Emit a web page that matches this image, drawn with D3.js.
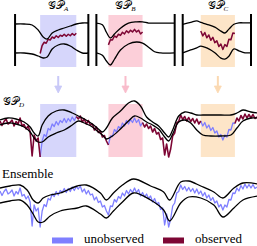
<!DOCTYPE html>
<html>
<head>
<meta charset="utf-8">
<script src="https://cdn.jsdelivr.net/npm/d3@7"></script>
<style>
  html, body { margin: 0; padding: 0; background: #fff; }
  svg { display: block; }
  text { font-family: "Liberation Serif", "DejaVu Serif", serif; fill: #000; }
</style>
</head>
<body>
<div id="chart"></div>
<script>
// the series, one value every 2 time steps (t = 0 .. 256)
const signal = [
  0.9, 0.45, 0.85, 1.1, 0.6, 0.75, 1.0, 0.4, 0.85, 0.6,
  1.2, 0.4, 0.55, 0.1, 0.4, -0.2, -2.6, -0.5, -1.1, -0.8,
  -2.7, -1.1, -0.45, -0.65, 0.15, 0.0, 0.6, 0.35, 0.85, 0.5,
  0.95, 0.75, 1.15, 0.75, 1.15, 0.85, 1.3, 0.95, 1.35, 1.1,
  1.4, 0.8, 1.1, 0.6, 0.95, 0.5, 0.6, 0.0, 0.3, -0.25,
  -0.1, -0.7, -0.55, -1.1, -1.5, -0.6, -0.65, 0.05, -0.2, 0.35,
  0.15, 0.7, 0.4, 0.95, 0.6, 1.05, 0.75, 1.2, 0.75, 1.05,
  0.4, 0.75, 0.3, 0.6, 0.15, 0.4, -0.2, 0.15, -0.4, -0.25,
  -0.95, -0.8, -2.5, -1.4, -2.7, -1.9, -0.6, -0.3, 0.7, 0.85,
  1.5, 1.05, 1.35, 0.9, 1.25, 0.85, 1.15, 0.7, 1.1, 0.6,
  0.9, 0.4, 0.75, 0.2, 0.5, -0.05, 0.25, -0.3, -0.1, -0.7,
  -0.45, -1.0, -0.5, -0.7, 0.05, 0.0, 0.7, 0.65, 1.2, 0.9,
  1.45, 1.1, 1.6, 1.2, 1.55, 1.2, 1.55, 1.15, 1.3
];
const signalStep = 2;

// held-out regions and the window of each local GP
const regionNames = ["A", "B", "C"];
const regions = [[40, 76], [108, 142], [200, 234]];
const windows = [[15, 88], [96, 174], [182, 250]];
const regionFill = ["#d6d6fb", "#fccfd9", "#fde5c8"];
const arrowColor = ["#c9c9f8", "#f9bccb", "#fbd9b2"];

// GP_D band
const knotsD = [0, 8, 16, 24, 30, 34, 38, 42, 48, 56, 64, 72, 78, 84, 92, 98, 102, 106, 112, 120,
  128, 134, 140, 146, 152, 158, 164, 168, 172, 178, 184, 190, 196, 202, 210, 220, 230, 236, 242, 250, 257];
const upperD = [1.0, 1.2, 1.1, 0.8, 0.3, -0.3, -0.6, 0.5, 1.4, 1.9, 2.0, 1.7, 1.4, 1.1, 0.6, 0.1, -0.2, 0.2, 1.2, 1.9,
  2.7, 2.9, 2.4, 1.3, 0.8, 0.4, -0.3, -0.7, 0.0, 1.4, 1.8, 1.7, 1.5, 1.5, 1.5, 1.5, 1.5, 1.7, 2.0, 1.8, 1.7];
const lowerD = [0.5, 0.7, 0.6, 0.3, -0.2, -0.8, -1.2, -1.2, -0.7, -0.3, 0.0, 0.5, 0.9, 0.7, 0.3, -0.2, -0.5, -0.9, -0.6, 0.1,
  0.9, 1.4, 1.2, 0.8, 0.5, 0.1, -0.7, -1.1, -0.4, 0.8, 1.0, 0.7, 0.0, -0.5, -0.6, -0.6, -0.5, 0.2, 0.9, 1.2, 1.2];

// ensemble band
const knotsE = [0, 10, 20, 27, 33, 38, 43, 50, 60, 77, 86, 100, 106, 113, 122, 133, 150, 163, 169, 180,
  188, 200, 213, 222, 233, 242, 257];
const upperE = [1.2, 1.4, 1.5, 1.0, 0.0, -0.3, 0.2, 0.5, 0.7, 1.4, 1.5, 0.7, 0.0, 0.7, 1.5, 2.1, 1.4, 0.8, 0.0, 1.8,
  1.9, 1.4, 0.8, 0.2, 1.2, 1.7, 1.6];
const lowerE = [-0.3, -0.1, 0.0, -0.5, -1.4, -2.2, -2.2, -1.6, -1.1, -0.8, -0.6, -1.4, -1.8, -1.1, -0.2, 0.7, 0.0, -1.0, -2.1, -0.3,
  0.3, 0.2, -0.5, -1.7, -0.8, 0.0, 0.4];

// local GP bands
const knotsA = [15, 24, 32, 38, 43, 47, 52, 58, 64, 70, 76, 82, 88];
const upperA = [3.2, 3.2, 3.0, 2.0, 0.6, 0.2, 1.4, 2.0, 2.4, 2.8, 3.2, 3.4, 3.4];
const lowerA = [-2.6, -2.6, -2.8, -3.2, -3.6, -3.4, -1.8, -1.0, -0.8, -1.2, -2.0, -2.6, -2.6];
const knotsB = [96, 102, 106, 110, 114, 120, 128, 136, 142, 148, 154, 160, 174];
const upperB = [2.3, 2.0, 0.7, -0.3, 0.4, 1.4, 2.3, 2.5, 2.5, 2.3, 2.3, 2.3, 2.3];
const lowerB = [-2.9, -3.3, -4.3, -5.0, -4.0, -2.4, -1.35, -1.0, -1.2, -1.9, -2.7, -2.9, -2.9];
const knotsC = [182, 190, 196, 200, 206, 214, 220, 224, 228, 233, 238, 244, 250];
const upperC = [1.6, 1.8, 1.95, 1.8, 1.6, 1.3, 0.9, 0.7, 1.1, 1.6, 1.75, 1.75, 1.75];
const lowerC = [-1.35, -1.05, -0.85, -0.65, -0.85, -1.35, -1.9, -2.0, -1.7, -0.95, -1.15, -1.35, -1.35];

const legendLabels = ["unobserved", "observed"];
const blue = "#7f7fff", red = "#7d0634";

const W = 257, H = 246;
const svg = d3.select("#chart").append("svg")
    .attr("width", W)
    .attr("height", H);

const x = d3.scaleLinear().domain([0, 256]).range([0, 257]);
const yD = d3.scaleLinear().domain([-3, 3]).range([160, 100]);
const yE = d3.scaleLinear().domain([-3, 3]).range([230, 170]);
const yTop = [
  d3.scaleLinear().domain([-1, 1]).range([45, 35]),
  d3.scaleLinear().domain([-1, 1]).range([42, 30.5]),
  d3.scaleLinear().domain([-0.75, 0.7]).range([47, 33])
];

const pts = signal.map((v, i) => ({t: i * signalStep, v: v}));
const inRegion = t => regions.some(r => t >= r[0] && t <= r[1]);
const insideRegion = t => regions.some(r => t > r[0] && t < r[1]);

function band(knots, vals, y) {
  return d3.line()
      .x((d, i) => x(knots[i]))
      .y(d => y(d))
      .curve(d3.curveCatmullRom.alpha(0.5))(vals);
}

function drawBand(g, knots, up, lo, y) {
  [up, lo].forEach(vals => {
    g.append("path")
        .attr("d", band(knots, vals, y))
        .attr("fill", "none")
        .attr("stroke", "#000")
        .attr("stroke-width", 1.3);
  });
}

// ---- top row: local GPs
const topBands = [[knotsA, upperA, lowerA], [knotsB, upperB, lowerB], [knotsC, upperC, lowerC]];
regions.forEach((r, k) => {
  const g = svg.append("g");
  g.append("rect")
      .attr("x", x(r[0])).attr("y", 15)
      .attr("width", x(r[1]) - x(r[0])).attr("height", 52)
      .attr("fill", regionFill[k]);

  const obs = pts.filter(d => d.t >= r[0] && d.t <= r[1]);
  g.append("path")
      .attr("d", d3.line().x(d => x(d.t)).y(d => yTop[k](d.v))(obs))
      .attr("fill", "none")
      .attr("stroke", red)
      .attr("stroke-width", 1.5)
      .attr("stroke-linejoin", "round");

  drawBand(g, topBands[k][0], topBands[k][1], topBands[k][2], yTop[k]);

  windows[k].forEach(w => {
    g.append("line")
        .attr("x1", x(w)).attr("x2", x(w))
        .attr("y1", 14).attr("y2", 66)
        .attr("stroke", "#000")
        .attr("stroke-width", 2);
  });

  const title = g.append("text")
      .attr("x", x((r[0] + r[1]) / 2))
      .attr("y", 9)
      .attr("text-anchor", "middle")
      .style("font-size", "11px");
  title.append("tspan").text("𝒢𝒫");
  title.append("tspan").text(regionNames[k])
      .attr("dy", 2)
      .style("font-size", "7px")
      .style("font-style", "italic");

  // arrow down to GP_D
  const cx = x((r[0] + r[1]) / 2);
  g.append("line")
      .attr("x1", cx).attr("x2", cx)
      .attr("y1", 76).attr("y2", 88)
      .attr("stroke", arrowColor[k])
      .attr("stroke-width", 2);
  g.append("path")
      .attr("d", `M${cx - 3.5},86 L${cx},93 L${cx + 3.5},86 Z`)
      .attr("fill", arrowColor[k])
      .attr("stroke", arrowColor[k])
      .attr("stroke-width", 0.8)
      .attr("stroke-linejoin", "round");
});

// ---- middle: GP_D
const gD = svg.append("g");
regions.forEach((r, k) => {
  gD.append("rect")
      .attr("x", x(r[0])).attr("y", 104)
      .attr("width", x(r[1]) - x(r[0])).attr("height", 53)
      .attr("fill", regionFill[k]);
});
gD.append("path")
    .attr("d", d3.line().defined(d => inRegion(d.t)).x(d => x(d.t)).y(d => yD(d.v))(pts))
    .attr("fill", "none")
    .attr("stroke", blue)
    .attr("stroke-width", 1.3)
    .attr("stroke-linejoin", "round");
gD.append("path")
    .attr("d", d3.line().defined(d => !insideRegion(d.t)).x(d => x(d.t)).y(d => yD(d.v))(pts))
    .attr("fill", "none")
    .attr("stroke", red)
    .attr("stroke-width", 1.6)
    .attr("stroke-linejoin", "round");
drawBand(gD, knotsD, upperD, lowerD, yD);

const tD = gD.append("text").attr("x", 3).attr("y", 105).style("font-size", "11px");
tD.append("tspan").text("𝒢𝒫");
tD.append("tspan").text("D").attr("dy", 2).style("font-size", "7px").style("font-style", "italic");

// ---- bottom: ensemble
const gE = svg.append("g");
gE.append("path")
    .attr("d", d3.line().x(d => x(d.t)).y(d => yE(d.v))(pts))
    .attr("fill", "none")
    .attr("stroke", blue)
    .attr("stroke-width", 1.3)
    .attr("stroke-linejoin", "round");
drawBand(gE, knotsE, upperE, lowerE, yE);
gE.append("text").attr("x", 2).attr("y", 178).style("font-size", "13px").text("Ensemble");

// ---- legend
const legend = svg.append("g");
[[52, 84], [163, 195]].forEach((p, i) => {
  legend.append("rect")
      .attr("x", p[0]).attr("y", 237.5)
      .attr("width", 21).attr("height", 6)
      .attr("fill", i === 0 ? blue : red);
  legend.append("text")
      .attr("x", p[1]).attr("y", 243)
      .style("font-size", "13px")
      .text(legendLabels[i]);
});
</script>
</body>
</html>
